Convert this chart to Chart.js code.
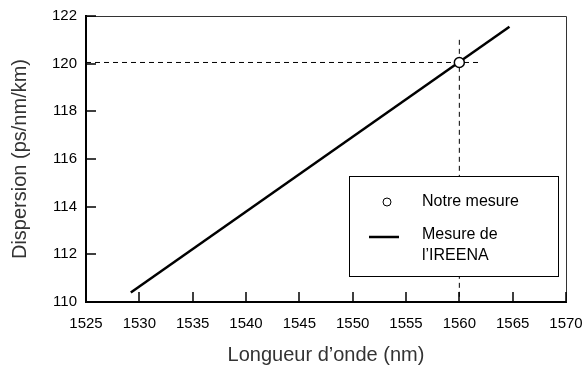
<!DOCTYPE html>
<html>
<head>
<meta charset="utf-8">
<script src="https://cdn.jsdelivr.net/npm/chart.js@4.4.0/dist/chart.umd.min.js"></script>
<style>
	body { margin: 0; background: #fff; }
	#wrap { width: 585px; height: 367px; }
</style>
</head>
<body>
<div id="wrap"><canvas id="dispersion-chart"></canvas></div>
<script>
// IREENA reference line (two end points)
const ireenaWavelength = [ 1529.2, 1564.7 ];
const ireenaDispersion = [ 110.4, 121.55 ];
// our own measurement
const ourWavelength = [ 1560 ];
const ourDispersion = [ 120.05 ];
// dashed guide lines through our point
const guideHx = [ 1525, 1562 ];
const guideHy = [ 120.05, 120.05 ];
const guideVx = [ 1560, 1560 ];
const guideVy = [ 121, 110 ];
// axis ticks
const xTicks = [ 1525, 1530, 1535, 1540, 1545, 1550, 1555, 1560, 1565, 1570 ];
const yTicks = [ 110, 112, 114, 116, 118, 120, 122 ];

const FONT = '"Liberation Sans", Arial, sans-serif';

const toPoints = ( xs, ys ) => xs.map( ( x, i ) => ( { x: x, y: ys[ i ] } ) );

const frameAndTicks = {
	id: 'frameAndTicks',
	beforeDatasetsDraw( chart ) {
		const { ctx, chartArea: a } = chart;
		ctx.save();
		ctx.strokeStyle = '#333';
		ctx.lineWidth = 1;
		ctx.beginPath();
		ctx.moveTo( a.left, a.top + 0.5 );
		ctx.lineTo( a.right + 0.5, a.top + 0.5 );
		ctx.lineTo( a.right + 0.5, a.bottom );
		ctx.stroke();
		ctx.restore();
	},
	afterDatasetsDraw( chart ) {
		const { ctx, chartArea: a, scales } = chart;
		ctx.save();
		ctx.strokeStyle = '#000';
		ctx.lineWidth = 1.5;
		ctx.beginPath();
		xTicks.forEach( ( v ) => {
			const px = Math.round( scales.x.getPixelForValue( v ) );
			ctx.moveTo( px, a.bottom );
			ctx.lineTo( px, a.bottom - 10 );
		} );
		yTicks.forEach( ( v ) => {
			const py = Math.round( scales.y.getPixelForValue( v ) );
			ctx.moveTo( a.left, py );
			ctx.lineTo( a.left + 10, py );
		} );
		ctx.stroke();

		// legend box inside the plot
		const bl = a.right - 217, bt = a.top + 160, bw = 209, bh = 100;
		ctx.fillStyle = '#fff';
		ctx.fillRect( bl, bt, bw, bh );
		ctx.lineWidth = 1;
		ctx.strokeStyle = '#000';
		ctx.strokeRect( bl + 0.5, bt + 0.5, bw, bh );

		ctx.beginPath();
		ctx.arc( bl + 38, bt + 26, 4, 0, Math.PI * 2 );
		ctx.stroke();

		ctx.lineWidth = 2.5;
		ctx.beginPath();
		ctx.moveTo( bl + 20, bt + 61 );
		ctx.lineTo( bl + 50, bt + 61 );
		ctx.stroke();

		ctx.fillStyle = '#000';
		ctx.font = '16px ' + FONT;
		ctx.textBaseline = 'middle';
		ctx.textAlign = 'left';
		ctx.fillText( 'Notre mesure', bl + 73, bt + 26 );
		ctx.fillText( 'Mesure de', bl + 73, bt + 59 );
		ctx.fillText( 'l\u2019IREENA', bl + 73, bt + 80 );
		ctx.restore();
	},
};

new Chart( document.getElementById( 'dispersion-chart' ), {
	type: 'line',
	data: {
		datasets: [
			{
				label: 'Notre mesure',
				data: toPoints( ourWavelength, ourDispersion ),
				showLine: false,
				pointRadius: 5,
				pointBorderWidth: 1.5,
				pointBorderColor: '#000',
				pointBackgroundColor: '#fff',
			},
			{
				label: 'Mesure de l\u2019IREENA',
				data: toPoints( ireenaWavelength, ireenaDispersion ),
				borderColor: '#000',
				borderWidth: 2.5,
				pointRadius: 0,
			},
			{
				data: toPoints( guideHx, guideHy ),
				borderColor: '#000',
				borderWidth: 1,
				borderDash: [ 5, 4 ],
				pointRadius: 0,
			},
			{
				data: toPoints( guideVx, guideVy ),
				borderColor: '#000',
				borderWidth: 1,
				borderDash: [ 5, 4 ],
				pointRadius: 0,
			},
		],
	},
	options: {
		responsive: true,
		maintainAspectRatio: false,
		animation: false,
		layout: { padding: { top: 16, right: 19, left: 0, bottom: 0 } },
		plugins: {
			legend: { display: false },
			tooltip: { enabled: false },
		},
		scales: {
			x: {
				type: 'linear',
				min: 1525,
				max: 1570,
				afterFit: ( scale ) => {
					scale.height = 65;
					scale.paddingLeft = 0;
					scale.paddingRight = 0;
				},
				afterBuildTicks: ( scale ) => {
					scale.ticks = xTicks.map( ( v ) => ( { value: v } ) );
				},
				grid: { drawOnChartArea: false, drawTicks: false },
				border: { color: '#000', width: 2 },
				ticks: {
					padding: 13,
					color: '#000',
					font: { family: FONT, size: 15 },
					callback: ( v ) => String( v ),
				},
				title: {
					display: true,
					text: 'Longueur d\u2019onde (nm)',
					color: '#333',
					padding: { top: 0, bottom: 0 },
					font: { family: FONT, size: 20 },
				},
			},
			y: {
				type: 'linear',
				min: 110,
				max: 122,
				afterFit: ( scale ) => {
					scale.width = 86;
					scale.paddingTop = 0;
					scale.paddingBottom = 0;
				},
				afterBuildTicks: ( scale ) => {
					scale.ticks = yTicks.map( ( v ) => ( { value: v } ) );
				},
				grid: { drawOnChartArea: false, drawTicks: false },
				border: { color: '#000', width: 2 },
				ticks: {
					padding: 9,
					color: '#000',
					font: { family: FONT, size: 15 },
					callback: ( v ) => String( v ),
				},
				title: {
					display: true,
					text: 'Dispersion (ps/nm/km)',
					color: '#333',
					padding: { top: 8, bottom: 0 },
					font: { family: FONT, size: 20 },
				},
			},
		},
	},
	plugins: [ frameAndTicks ],
} );
</script>
</body>
</html>
